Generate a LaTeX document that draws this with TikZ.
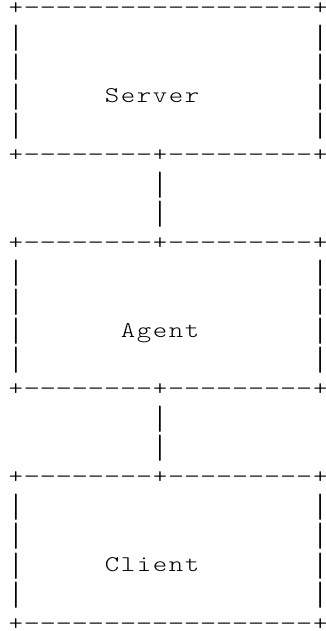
\documentclass[tikz,border=0pt]{standalone}
\usepackage{fontspec}
\usepackage{graphicx}
\newfontfamily\asciifont{Latin Modern Mono Light}
\ExplSyntaxOn
\dim_new:N \l_cellw_dim
\dim_set:Nn \l_cellw_dim {16.02pt}
\box_new:N \l_asciibar_box
\cs_new_protected:Npn \ascii_bar:
  {
    \hbox_set:Nn \l_asciibar_box {|}
    \box_resize_to_ht_plus_dp:Nn \l_asciibar_box {26.4pt}
    \box_move_down:nn {7.4pt - \box_dp:N \l_asciibar_box} {\box_use:N \l_asciibar_box}
  }
\NewDocumentCommand\monorow{m}{
  \tl_map_inline:nn {#1}{
    \str_case:nnF {##1}
      {
        {.}{\hbox_to_wd:nn {\l_cellw_dim}{}}
        {|}{\hbox_to_wd:nn {\l_cellw_dim}{\hss \ascii_bar: \hss}}
        {-}{\hbox_to_wd:nn {\l_cellw_dim}{\hss \scalebox{1.4}[1]{-}\hss}}
      }
      {\hbox_to_wd:nn {\l_cellw_dim}{\hss \scalebox{1.22}[1]{##1}\hss}}
  }
}
\ExplSyntaxOff
\begin{document}
\begin{tikzpicture}[x=1pt,y=-1pt,
  row/.style={anchor=base west,inner sep=0pt,outer sep=0pt,
    font=\asciifont\fontsize{22.5}{29.3}\selectfont}]
\useasboundingbox[fill=white] (0,0) rectangle (325,631);
\def\lh{29.3}
\def\bo{14.8}
\def\xo{7.89}
\def\cw{16.02}
% Server box
\node[row] (r0)  at (\xo,{\bo+0*\lh})  {\monorow{+------------------+}};
\node[row] (r1)  at (\xo,{\bo+1*\lh})  {\monorow{|..................|}};
\node[row] (r2)  at (\xo,{\bo+2*\lh})  {\monorow{|..................|}};
\node[row] (r3l) at (\xo,{\bo+3*\lh})  {\monorow{|}};
\node[row] (server) at ({\xo+6*\cw},{\bo+3*\lh}) {\monorow{Server}};
\node[row] (r3r) at ({\xo+19*\cw},{\bo+3*\lh})  {\monorow{|}};
\node[row] (r4)  at (\xo,{\bo+4*\lh})  {\monorow{|..................|}};
\node[row] (r5)  at (\xo,{\bo+5*\lh})  {\monorow{+--------+---------+}};
% link Server -- Agent
\node[row] (r6)  at ({\xo+9*\cw},{\bo+6*\lh})  {\monorow{|}};
\node[row] (r7)  at ({\xo+9*\cw},{\bo+7*\lh})  {\monorow{|}};
% Agent box
\node[row] (r8)  at (\xo,{\bo+8*\lh})  {\monorow{+--------+---------+}};
\node[row] (r9)  at (\xo,{\bo+9*\lh})  {\monorow{|..................|}};
\node[row] (r10) at (\xo,{\bo+10*\lh}) {\monorow{|..................|}};
\node[row] (r11l) at (\xo,{\bo+11*\lh}) {\monorow{|}};
\node[row] (agent) at ({\xo+7*\cw},{\bo+11*\lh}) {\monorow{Agent}};
\node[row] (r11r) at ({\xo+19*\cw},{\bo+11*\lh}) {\monorow{|}};
\node[row] (r12) at (\xo,{\bo+12*\lh}) {\monorow{|..................|}};
\node[row] (r13) at (\xo,{\bo+13*\lh}) {\monorow{+--------+---------+}};
% link Agent -- Client
\node[row] (r14) at ({\xo+9*\cw},{\bo+14*\lh}) {\monorow{|}};
\node[row] (r15) at ({\xo+9*\cw},{\bo+15*\lh}) {\monorow{|}};
% Client box
\node[row] (r16) at (\xo,{\bo+16*\lh}) {\monorow{+--------+---------+}};
\node[row] (r17) at (\xo,{\bo+17*\lh}) {\monorow{|..................|}};
\node[row] (r18) at (\xo,{\bo+18*\lh}) {\monorow{|..................|}};
\node[row] (r19l) at (\xo,{\bo+19*\lh}) {\monorow{|}};
\node[row] (client) at ({\xo+6*\cw},{\bo+19*\lh}) {\monorow{Client}};
\node[row] (r19r) at ({\xo+19*\cw},{\bo+19*\lh}) {\monorow{|}};
\node[row] (r20) at (\xo,{\bo+20*\lh}) {\monorow{|..................|}};
\node[row] (r21) at (\xo,{\bo+21*\lh}) {\monorow{+------------------+}};
\end{tikzpicture}
\end{document}
